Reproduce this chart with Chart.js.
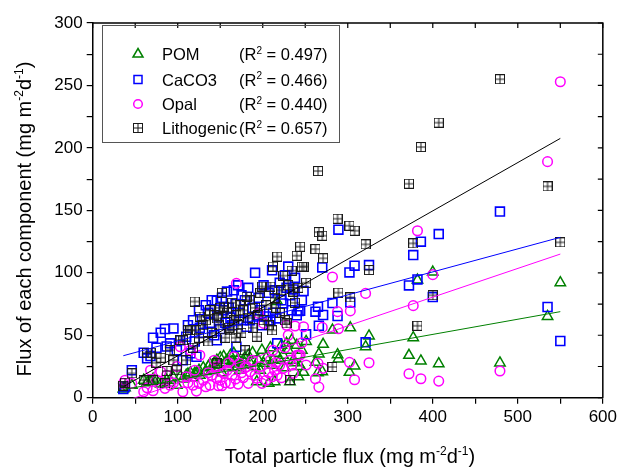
<!DOCTYPE html>
<html>
<head>
<meta charset="utf-8">
<script src="https://cdn.jsdelivr.net/npm/chart.js@4.4.0/dist/chart.umd.min.js"></script>
<style>
  html, body { margin: 0; padding: 0; background: #fff; }
  #wrap { width: 620px; height: 470px; }
</style>
</head>
<body>
<div id="wrap"><canvas id="chart" width="620" height="470"></canvas></div>
<script>
// one entry per sample: total flux on x, each component on y
const totalFlux = [36, 38, 46, 60, 64, 68, 71, 75, 80, 85,
                   87, 91, 95, 99, 103, 106, 110, 112, 115, 118,
                   120, 122, 125, 126, 130, 133, 136, 138, 140, 143,
                   146, 146, 148, 150, 152, 154, 156, 158, 160, 162,
                   164, 166, 168, 169, 171, 173, 175, 177, 179, 181,
                   183, 185, 188, 191, 193, 195, 197, 199, 201, 204,
                   207, 209, 211, 212, 214, 216, 217, 220, 222, 224,
                   226, 228, 230, 232, 234, 236, 238, 240, 242, 244,
                   246, 248, 251, 262, 265, 266, 270, 271, 282, 288,
                   289, 302, 303, 308, 321, 325, 372, 377, 382, 386,
                   400, 407, 479, 535, 550];
const pom = [6.9, 8, 10, 14, 12, 13, 15, 14, 11, 12,
             14, 14, 16, 10, 17, 15, 18, 19, 20, 16,
             19.5, 20, 22, 18, 24, 21, 25, 27, 22, 28,
             30, 24, 26, 32, 20, 33, 28, 30, 25, 34,
             29, 35.5, 27, 24, 31, 22, 28, 30, 32, 26,
             34, 28, 36, 24.8, 12.8, 30, 22, 38, 27.5, 32,
             11.5, 40, 26, 30, 12.8, 35.5, 77, 30, 42, 34,
             24, 43.5, 38, 12.8, 46, 30, 28, 42, 16.8, 25,
             38, 20.3, 45, 28.3, 20, 35, 20.8, 42.7, 54.2, 34.4,
             31, 20.3, 56, 25.4, 40.8, 49.4, 33.9, 48, 94.2, 29.4,
             100.6, 27.2, 27.8, 65.1, 92.1];
const caco3 = [6.9, 9, 22, 36, 31.5, 33.4, 48, 40, 52, 55,
               41, 43.5, 55.5, 38, 46, 30, 48.8, 58, 35.5, 62,
               45, 32.8, 70, 56, 52, 74, 68, 60, 78, 50,
               46, 77.7, 65, 55, 80, 70, 60, 85, 72, 64,
               58, 86, 75, 40.8, 90, 68, 82, 62, 78, 56.8,
               88, 62, 72, 100, 65, 80, 70, 58, 90, 65,
               84, 62, 102, 68, 86, 63.5, 43.5, 92, 78, 75.5,
               98, 88, 105, 82, 70, 86.7, 96, 66, 69.4, 69.7,
               78, 85.4, 50.7, 68.9, 72.9, 57.6, 104.3, 66.2, 75.8, 65.4,
               134.5, 100.3, 76.3, 105.7, 44.3, 106.2, 89.9, 114.2, 94.7, 124.9,
               80.6, 131, 149, 72.6, 45.4];
const opal = [11.5, 14, 11.5, 4.8, 8, 22, 5.6, 14, 20.8, 7.5,
              18, 10, 12, 25, 40.8, 4.8, 16.8, 12, 38, 10,
              22, 5.3, 11.5, 34, 14, 8.8, 20, 10, 18, 30,
              15.5, 25, 9.6, 14, 9.6, 19.5, 12, 22, 28, 11.5,
              18, 32.8, 15, 91.5, 10.9, 27.5, 20, 16, 24, 24.8,
              11.5, 20.8, 30, 18, 15.5, 67.5, 25, 11.5, 59.5, 14,
              20, 30, 16.8, 38, 22, 28, 18, 26, 16, 23.5,
              40, 58, 50, 30, 26, 19.5, 57.4, 34, 34.2, 34.2,
              44, 56.8, 26.2, 15.2, 27.5, 8.5, 56.3, 23.5, 96.6, 68.9,
              55.2, 28.3, 69.5, 14.4, 83.5, 28, 19.2, 73.7, 133.7, 15.2,
              98.5, 13.3, 21.4, 189, 253];
const litho = [9.6, 12, 19.5, 14, 36, 36, 14, 28, 32, 11.5,
               21.4, 38, 30, 22, 46, 46, 30, 54, 54, 40,
               77, 54, 48, 65, 58, 62, 45, 70, 52, 66,
               27.5, 63.5, 58, 72, 84, 73, 48, 68, 56, 54,
               76, 62, 48, 66, 58, 74, 52, 70, 38, 81,
               64, 78, 56, 72, 48.8, 66, 84, 89, 62, 74,
               58, 89, 54, 105, 80, 72, 113, 68, 86, 97.7,
               62, 59.5, 90, 14.1, 101.7, 85, 76, 113.7, 88, 120.9,
               104.9, 104.9, 92, 119, 181.5, 132.6, 129.7, 111.6, 24.6, 143.3,
               84.1, 137.7, 80.3, 133.7, 122.8, 102.2, 171.3, 123.6, 57.6, 200.7,
               82, 220.2, 255, 169.2, 124.4];

// linear fits at both ends
const fitX = [36, 550];
const pomFit = [6.5, 68.9];
const caco3Fit = [33.6, 128.4];
const opalFit = [-3.2, 115];
const lithoFit = [8.8, 207.6];

const seriesNames = ['POM', 'CaCO3', 'Opal', 'Lithogenic'];
const rSquared = ['0.497', '0.466', '0.440', '0.657'];
const seriesColors = ['#008000', '#0000ff', '#ff00ff', '#1a1a1a'];

const xTicks = { min: 0, max: 600, step: 50, labelEvery: 100 };
const yTicks = { min: 0, max: 300, step: 25, labelEvery: 50 };

const FONT = '"Liberation Sans", Arial, Helvetica, sans-serif';

function toPoints(xs, ys) {
    return xs.map((x, i) => ({ x: x, y: ys[i] }));
}

// square with a plus inside, used for the lithogenic points
function makeLithoMarker() {
    const c = document.createElement('canvas');
    c.width = 10;
    c.height = 10;
    const g = c.getContext('2d');
    g.strokeStyle = seriesColors[3];
    g.lineWidth = 1;
    g.strokeRect(0.5, 0.5, 9, 9);
    g.beginPath();
    g.moveTo(5, 0.5); g.lineTo(5, 9.5);
    g.moveTo(0.5, 5); g.lineTo(9.5, 5);
    g.stroke();
    return c;
}
const lithoMarker = makeLithoMarker();

// draws text where some parts are superscripts; returns width
function richText(ctx, parts, x, y, size, measureOnly) {
    let w = 0;
    parts.forEach(p => {
        const s = p.sup ? Math.round(size * 0.62) : size;
        ctx.font = s + 'px ' + FONT;
        if (!measureOnly) ctx.fillText(p.t, x + w, p.sup ? y - size * 0.38 : y);
        w += ctx.measureText(p.t).width;
    });
    return w;
}

const unitParts = [{ t: ' (mg m' }, { t: '-2', sup: true }, { t: 'd' }, { t: '-1', sup: true }, { t: ')' }];
const xTitleParts = [{ t: 'Total particle flux' }].concat(unitParts);
const yTitleParts = [{ t: 'Flux of each component' }].concat(unitParts);

const decorPlugin = {
    id: 'decor',
    afterDraw(chart) {
        const ctx = chart.ctx;
        const a = chart.chartArea;
        const xs = chart.scales.x;
        const ys = chart.scales.y;
        ctx.save();

        // top and right frame with inward ticks
        ctx.strokeStyle = '#000';
        ctx.lineWidth = 1.5;
        ctx.beginPath();
        ctx.moveTo(a.left, a.top);
        ctx.lineTo(a.right, a.top);
        ctx.lineTo(a.right, a.bottom);
        ctx.stroke();
        ctx.lineWidth = 1.2;
        ctx.beginPath();
        for (let v = xTicks.min; v <= xTicks.max; v += xTicks.step) {
            const px = xs.getPixelForValue(v);
            ctx.moveTo(px, a.top);
            ctx.lineTo(px, a.top + 5);
        }
        for (let v = yTicks.min; v <= yTicks.max; v += yTicks.step) {
            const py = ys.getPixelForValue(v);
            ctx.moveTo(a.right, py);
            ctx.lineTo(a.right - 5, py);
        }
        ctx.stroke();

        // axis titles
        ctx.fillStyle = '#000';
        ctx.textBaseline = 'alphabetic';
        ctx.textAlign = 'left';
        const tSize = 20;
        let w = richText(ctx, xTitleParts, 0, 0, tSize, true);
        richText(ctx, xTitleParts, 350 - w / 2, 463, tSize, false);

        w = richText(ctx, yTitleParts, 0, 0, tSize, true);
        ctx.save();
        ctx.translate(31, 219);
        ctx.rotate(-Math.PI / 2);
        richText(ctx, yTitleParts, -w / 2, 0, tSize, false);
        ctx.restore();

        // legend box
        ctx.strokeStyle = '#555';
        ctx.lineWidth = 1;
        ctx.strokeRect(102.5, 25.5, 237, 117);
        const rows = [54, 79.5, 104, 128];
        const mx = 138;
        rows.forEach((ry, i) => {
            ctx.strokeStyle = seriesColors[i];
            ctx.lineWidth = 1.5;
            ctx.beginPath();
            if (i === 0) {
                ctx.moveTo(mx, ry - 5.5);
                ctx.lineTo(mx + 5, ry + 3);
                ctx.lineTo(mx - 5, ry + 3);
                ctx.closePath();
                ctx.stroke();
            } else if (i === 1) {
                ctx.strokeRect(mx - 4, ry - 4, 8, 8);
            } else if (i === 2) {
                ctx.arc(mx, ry, 4.3, 0, Math.PI * 2);
                ctx.stroke();
            } else {
                ctx.drawImage(lithoMarker, mx - 5, ry - 5);
            }
            ctx.fillStyle = '#000';
            const base = ry + 6;
            richText(ctx, [{ t: seriesNames[i] }], 162, base, 16.5, false);
            richText(ctx, [{ t: '(R' }, { t: '2', sup: true }, { t: ' = ' + rSquared[i] + ')' }], 239, base, 16.5, false);
        });

        ctx.restore();
    }
};

const scatterBase = { showLine: false, pointBackgroundColor: 'rgba(0,0,0,0)', pointHoverRadius: 0 };

const datasets = [
    Object.assign({}, scatterBase, {
        label: seriesNames[0], data: toPoints(totalFlux, pom), order: 4,
        pointStyle: 'triangle', pointRadius: 6, pointBorderWidth: 1.5, pointBorderColor: seriesColors[0]
    }),
    Object.assign({}, scatterBase, {
        label: seriesNames[1], data: toPoints(totalFlux, caco3), order: 3,
        pointStyle: 'rect', pointRadius: 6.3, pointBorderWidth: 1.6, pointBorderColor: seriesColors[1]
    }),
    Object.assign({}, scatterBase, {
        label: seriesNames[2], data: toPoints(totalFlux, opal), order: 2,
        pointStyle: 'circle', pointRadius: 4.8, pointBorderWidth: 1.5, pointBorderColor: seriesColors[2]
    }),
    Object.assign({}, scatterBase, {
        label: seriesNames[3], data: toPoints(totalFlux, litho), order: 1,
        pointStyle: lithoMarker, pointRadius: 5
    })
];

const fits = [pomFit, caco3Fit, opalFit, lithoFit];
fits.forEach((f, i) => {
    datasets.push({
        type: 'line', label: seriesNames[i] + ' fit', data: toPoints(fitX, f), order: 0,
        borderColor: i === 3 ? '#000' : seriesColors[i], borderWidth: 1,
        pointRadius: 0, fill: false, tension: 0
    });
});

new Chart(document.getElementById('chart'), {
    type: 'scatter',
    data: { datasets: datasets },
    options: {
        responsive: false,
        animation: false,
        events: [],
        layout: { padding: { top: 23, right: 17, left: 0, bottom: 0 } },
        plugins: { legend: { display: false }, tooltip: { enabled: false } },
        scales: {
            x: {
                type: 'linear', min: xTicks.min, max: xTicks.max,
                afterFit: s => { s.height = 72.3; },
                border: { display: true, color: '#000', width: 1.5 },
                grid: { drawOnChartArea: false, drawTicks: true, tickLength: 6, color: '#000', lineWidth: 1.2 },
                ticks: {
                    stepSize: xTicks.step, autoSkip: false, maxRotation: 0, padding: 3,
                    color: '#000', font: { family: FONT, size: 17 },
                    callback: v => (v % xTicks.labelEvery === 0 ? v : '')
                }
            },
            y: {
                type: 'linear', min: yTicks.min, max: yTicks.max,
                afterFit: s => { s.width = 92.7; },
                border: { display: true, color: '#000', width: 1.5 },
                grid: { drawOnChartArea: false, drawTicks: true, tickLength: 6, color: '#000', lineWidth: 1.2 },
                ticks: {
                    stepSize: yTicks.step, autoSkip: false, padding: 4,
                    color: '#000', font: { family: FONT, size: 17 },
                    callback: v => (v % yTicks.labelEvery === 0 ? v : '')
                }
            }
        }
    },
    plugins: [decorPlugin]
});
</script>
</body>
</html>
